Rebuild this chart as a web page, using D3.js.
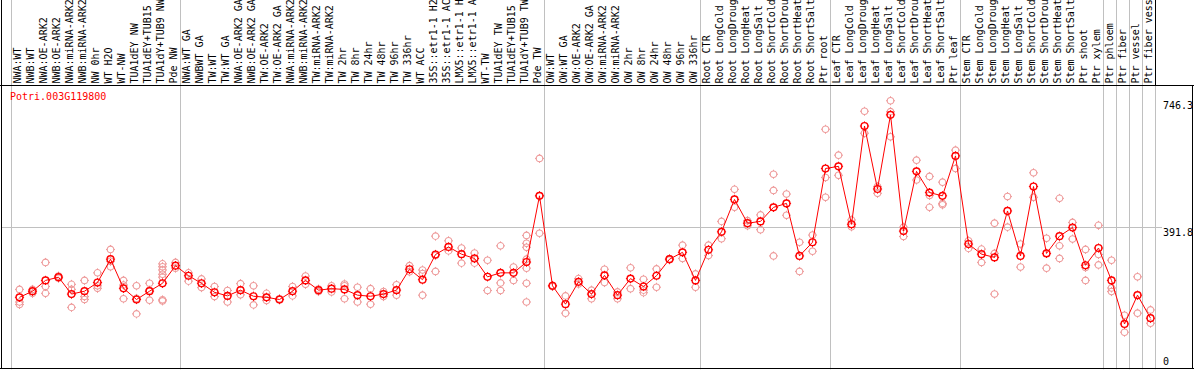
<!DOCTYPE html>
<html><head><meta charset="utf-8">
<script src="https://cdn.jsdelivr.net/npm/d3@7"></script>
<style>html,body{margin:0;padding:0;background:#fff;overflow:hidden}</style>
</head><body>
<svg id="chart" width="1194" height="370"></svg>
<script>
const geneName = "Potri.003G119800";
const categories = [
"NWA:WT","NWB:WT","NWA:OE-ARK2","NWB:OE-ARK2","NWA:miRNA-ARK2","NWB:miRNA-ARK2","NW 0hr","WT H2O","WT-NW","TUA1dEY NW","TUA1dEY+TUB15","TUA1dY+TUB9 NW","Pde NW",
"NWA:WT GA","NWBWT GA","TW:WT","TW:WT GA","NWA:OE-ARK2 GA","NWB:OE-ARK2 GA","TW:OE-ARK2","TW:OE-ARK2 GA","NWA:miRNA-ARK2","NWB:miRNA-ARK2","TW:miRNA-ARK2","TW:miRNA-ARK2 ","TW 2hr","TW 8hr","TW 24hr","TW 48hr","TW 96hr","TW 336hr","WT ACC","35S::etr1-1 H2O","35S::etr1-1 ACC","LMX5::etr1-1 H2O","LMX5::etr1-1 ACC","WT-TW","TUA1dEY TW","TUA1dEY+TUB15 ","TUA1dY+TUB9 TW","Pde TW",
"OW:WT","OW:WT GA","OW:OE-ARK2","OW:OE-ARK2 GA","OW:miRNA-ARK2","OW:miRNA-ARK2 ","OW 2hr","OW 8hr","OW 24hr","OW 48hr","OW 96hr","OW 336hr",
"Root CTR","Root LongCold","Root LongDrought","Root LongHeat","Root LongSalt","Root ShortCold","Root ShortDrought","Root ShortHeat","Root ShortSalt","Ptr root",
"Leaf CTR","Leaf LongCold","Leaf LongDrought","Leaf LongHeat","Leaf LongSalt","Leaf ShortCold","Leaf ShortDrought","Leaf ShortHeat","Leaf ShortSalt","Ptr leaf",
"Stem CTR","Stem LongCold","Stem LongDrought","Stem LongHeat","Stem LongSalt","Stem ShortCold","Stem ShortDrought","Stem ShortHeat","Stem ShortSalt","Ptr shoot","Ptr xylem",
"Ptr phloem","Ptr fiber","Ptr vessel","Ptr fiber vessel"];

const meanValues = [
200,217,247,256,209,217,241,306,225,194,217,239,288,
260,239,214,204,220,203,200,194,217,247,220,224,222,206,203,209,220,278,249,319,340,320,308,257,268,268,298,482,
232,181,243,209,261,206,252,230,260,306,325,247,
332,382,472,406,411,450,461,315,353,558,
564,403,676,501,707,384,550,491,482,593,
348,320,311,440,315,508,322,370,394,289,337,
247,126,206,142];

const replicateValues = [
[222,187,180],[222,211,216],[297,230,211],[259,253],[236,222,172],[247,202,194],[268,232,225],[333,285,300],[247,234,196],[232,154,197],[239,192,220],[293,285,276,264,256,193,190],[297,281],
[268,245],[251,227],[230,202],[219,187],[238,207],[232,179],[211,191],[196,193],[230,204],[259,236],[223,216],[232,215],[237,232,196],[228,187],[224,181],[216,202],[235,206],[288,271],[276,266,206],[370,272,316],[357,329],[337,295],[323,295],[303,219],[343,240,219],[284,247],[372,350,339,306,281,239,187],[586,378,482],
[233,230],[204,156],[252,237],[220,196],[278,241],[215,196],[282,224],[250,220,213],[279,228],[307,304],[345,308],[265,228],
[345,316],[411,363],[500,450],[413,399],[429,388],[542,497,315],[487,428],[353,272],[373,328],[667,533,478],
[595,539],[415,396],[717,656],[508,489],[746.3,716,646],[395,369],[581,526],[536,483,450],[520,461,457],[609,558],
[357,336],[334,297],[406,322,209],[480,395],[348,284],[546,478],[364,281],[475,343,308],[408,362],[333,283,247],[400,319,290],
[303,226,216],[150,103],[257,156],[165,128]];

// indices of columns whose left edge carries a separator line
const separatorIndices = [0,13,41,53,63,73,84,85,86,87];
const axisTickLabels = ["746.3","391.8","0"];
const axisTickValues = [746.3,391.8,0];

const W = 1194, H = 370;
const headerBottom = 85, plotBottom = 369.3;
const svg = d3.select("#chart");
const mono = "'DejaVu Sans Mono', 'Liberation Mono', monospace";

const x = d3.scaleBand().domain(d3.range(categories.length)).range([11, 1155]).padding(0);
const px = i => x(i) + 8.5;
const yMax = d3.max(replicateValues.flat()) * 1.05;
const y = d3.scaleLinear().domain([0, yMax]).range([plotBottom, 87.3]);
const crisp = v => Math.round(v) + 0.5;

svg.append("rect").attr("width", W).attr("height", H).attr("fill", "#fff");

// vertical separators (grey)
const seps = separatorIndices.map(i => x(i)).concat([x.range()[1]]);
svg.append("g").selectAll("line").data(seps).join("line")
  .attr("x1", d => crisp(d)).attr("x2", d => crisp(d))
  .attr("y1", 0).attr("y2", plotBottom)
  .attr("stroke", "#c0c0c0").attr("stroke-width", 1);

// black header right edge
svg.append("line").attr("x1", crisp(x.range()[1])).attr("x2", crisp(x.range()[1]))
  .attr("y1", 0).attr("y2", headerBottom).attr("stroke", "#000");

// horizontal grid at mid tick
svg.append("line").attr("x1", 1).attr("x2", 1162)
  .attr("y1", crisp(y(391.8)) - 1).attr("y2", crisp(y(391.8)) - 1)
  .attr("stroke", "#c0c0c0");

// borders
svg.append("line").attr("x1", 0).attr("x2", W).attr("y1", headerBottom + 0.5).attr("y2", headerBottom + 0.5).attr("stroke", "#000");
svg.append("line").attr("x1", 0).attr("x2", W).attr("y1", 368.5).attr("y2", 368.5).attr("stroke", "#000");
svg.append("line").attr("x1", 1.5).attr("x2", 1.5).attr("y1", 0).attr("y2", 369).attr("stroke", "#000");
svg.append("line").attr("x1", 1192.5).attr("x2", 1192.5).attr("y1", headerBottom).attr("y2", 369).attr("stroke", "#000");

// category labels
svg.append("g").selectAll("text").data(categories).join("text")
  .attr("transform", (d, i) => `translate(${px(i) + 1.8},83.5) rotate(-90)`)
  .attr("font-family", mono).attr("font-size", 10).attr("fill", "#000")
  .text(d => d.trim());

// gene name
svg.append("text").attr("x", 10).attr("y", 100).attr("font-family", mono)
  .attr("font-size", 10).attr("fill", "#ff0000").text(geneName);

// right axis labels
svg.append("g").selectAll("text").data(axisTickValues).join("text")
  .attr("x", 1163)
  .attr("y", (d, i) => i === 2 ? 365 : y(d) + 8)
  .attr("font-family", mono).attr("font-size", 10).attr("fill", "#000")
  .text((d, i) => axisTickLabels[i]);

function marker(sel, r, color, sw) {
  sel.append("circle").attr("r", r).attr("fill", "none").attr("stroke", color).attr("stroke-width", sw);
  sel.append("path").attr("d", `M${-r-1.2},0h1.2M${r},0h1.2M0,${-r-1.2}v1.2M0,${r}v1.2`)
    .attr("stroke", color).attr("stroke-width", 1).attr("fill", "none");
}

// replicates
const reps = [];
replicateValues.forEach((arr, i) => arr.forEach(v => reps.push({i, v})));
svg.append("g").selectAll("g").data(reps).join("g")
  .attr("transform", d => `translate(${px(d.i)},${y(d.v)})`)
  .each(function () { marker(d3.select(this), 3.3, "#ee9a9a", 1.1); });

// mean line
const line = d3.line().x((d, i) => px(i)).y(d => y(d));
svg.append("path").datum(meanValues).attr("d", line)
  .attr("fill", "none").attr("stroke", "#ff0000").attr("stroke-width", 1);

// means
svg.append("g").selectAll("g").data(meanValues).join("g")
  .attr("transform", (d, i) => `translate(${px(i)},${y(d)})`)
  .each(function () { marker(d3.select(this), 3.4, "#ff0000", 1.4); });
</script>
</body></html>
